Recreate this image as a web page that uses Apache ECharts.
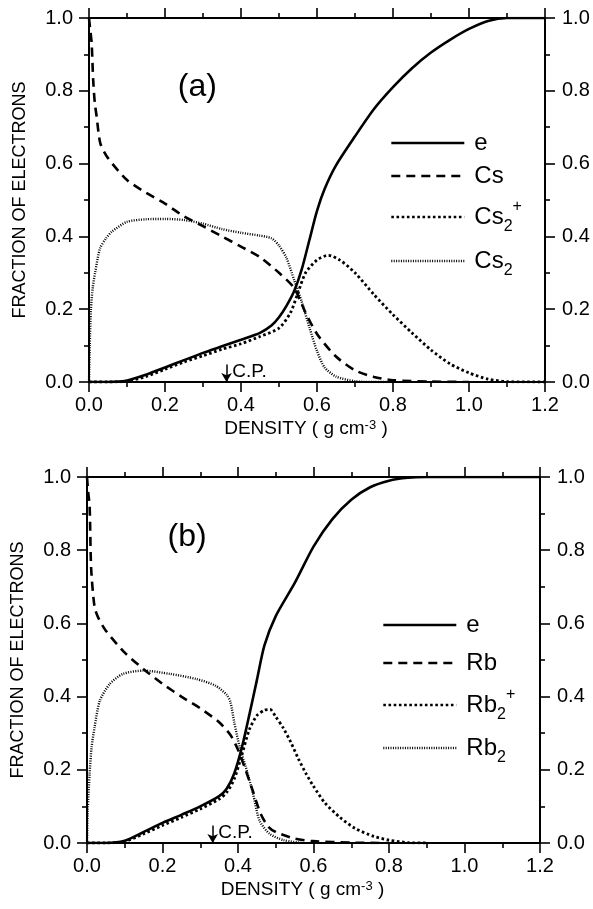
<!DOCTYPE html>
<html>
<head>
<meta charset="utf-8">
<script src="https://cdn.jsdelivr.net/npm/echarts@6/dist/echarts.min.js"></script>
<style>
  html, body { margin: 0; padding: 0; background: #fff; }
  #chart { width: 593px; height: 909px; }
</style>
</head>
<body>
<div id="chart"></div>
<script>
// panel (a): Cs, density in g cm^-3 vs fraction of electrons
const eA = [[0,0],[0.05,0],[0.1,0.004],[0.15,0.02],[0.2,0.04],[0.25,0.06],[0.3,0.08],[0.35,0.098],[0.4,0.116],[0.45,0.135],[0.48,0.155],[0.5,0.178],[0.52,0.21],[0.54,0.25],[0.56,0.31],[0.58,0.39],[0.6,0.47],[0.62,0.53],[0.65,0.595],[0.7,0.675],[0.75,0.75],[0.8,0.81],[0.85,0.862],[0.9,0.905],[0.95,0.94],[1.0,0.97],[1.05,0.992],[1.1,1.0],[1.2,1.0]]
const csA = [[0,1.0],[0.003,0.97],[0.007,0.93],[0.011,0.83],[0.015,0.77],[0.02,0.73],[0.03,0.655],[0.05,0.615],[0.1,0.555],[0.15,0.52],[0.2,0.49],[0.25,0.455],[0.3,0.428],[0.35,0.4],[0.4,0.372],[0.45,0.343],[0.5,0.3],[0.54,0.258],[0.57,0.19],[0.6,0.132],[0.65,0.07],[0.7,0.032],[0.75,0.014],[0.8,0.005],[0.9,0.001],[1.0,0]]
const cs2pA = [[0,0],[0.05,0],[0.1,0.002],[0.15,0.015],[0.2,0.035],[0.25,0.055],[0.3,0.072],[0.35,0.09],[0.4,0.105],[0.45,0.125],[0.5,0.148],[0.53,0.19],[0.55,0.245],[0.57,0.3],[0.6,0.335],[0.63,0.348],[0.66,0.335],[0.7,0.3],[0.75,0.24],[0.8,0.185],[0.85,0.135],[0.9,0.088],[0.95,0.05],[1.0,0.025],[1.05,0.008],[1.1,0.001],[1.2,0]]
const cs2A = [[0,0],[0.002,0.1],[0.005,0.2],[0.01,0.26],[0.016,0.3],[0.029,0.367],[0.045,0.395],[0.06,0.413],[0.1,0.44],[0.15,0.447],[0.2,0.448],[0.25,0.445],[0.3,0.435],[0.35,0.42],[0.4,0.41],[0.45,0.402],[0.48,0.395],[0.5,0.375],[0.52,0.34],[0.54,0.28],[0.56,0.22],[0.58,0.15],[0.6,0.085],[0.62,0.04],[0.65,0.015],[0.7,0.002],[0.75,0],[0.8,0]]
const cpA = 0.362

// panel (b): Rb
const eB = [[0,0],[0.05,0],[0.1,0.006],[0.15,0.03],[0.2,0.055],[0.25,0.077],[0.3,0.1],[0.35,0.128],[0.37,0.148],[0.39,0.19],[0.41,0.26],[0.43,0.35],[0.45,0.445],[0.47,0.54],[0.5,0.62],[0.55,0.71],[0.6,0.81],[0.65,0.885],[0.7,0.938],[0.75,0.972],[0.8,0.99],[0.85,0.998],[0.9,1.0],[1.2,1.0]]
const rbB = [[0,1.0],[0.003,0.96],[0.007,0.92],[0.011,0.75],[0.02,0.645],[0.03,0.615],[0.05,0.58],[0.1,0.52],[0.15,0.475],[0.2,0.435],[0.25,0.4],[0.3,0.368],[0.35,0.33],[0.38,0.295],[0.4,0.255],[0.42,0.2],[0.44,0.14],[0.46,0.08],[0.48,0.045],[0.5,0.03],[0.55,0.012],[0.6,0.005],[0.7,0.001],[0.8,0]]
const rb2pB = [[0,0],[0.05,0],[0.1,0.004],[0.15,0.025],[0.2,0.048],[0.25,0.07],[0.3,0.093],[0.35,0.12],[0.37,0.138],[0.39,0.175],[0.41,0.24],[0.43,0.31],[0.45,0.348],[0.47,0.363],[0.485,0.365],[0.5,0.345],[0.52,0.314],[0.54,0.275],[0.56,0.23],[0.58,0.19],[0.6,0.155],[0.63,0.11],[0.67,0.07],[0.71,0.04],[0.76,0.018],[0.8,0.008],[0.85,0.001],[0.9,0]]
const rb2B = [[0,0],[0.002,0.09],[0.007,0.19],[0.012,0.26],[0.02,0.316],[0.034,0.389],[0.06,0.434],[0.095,0.462],[0.15,0.471],[0.22,0.462],[0.29,0.448],[0.34,0.43],[0.37,0.405],[0.38,0.385],[0.39,0.33],[0.405,0.26],[0.42,0.21],[0.44,0.134],[0.457,0.061],[0.484,0.025],[0.52,0.008],[0.57,0]]
const cpB = 0.333

const densityTicks = { min: 0, max: 1.2, interval: 0.2 }
const fractionTicks = { min: 0, max: 1, interval: 0.2 }

const FONT = '"Liberation Sans", Arial, Helvetica, sans-serif'
const INK = '#000'

const legendText = {
  'e (a)': 'e', 'Cs': 'Cs', 'Cs2+': 'Cs{sub|2}{sup|+}', 'Cs2': 'Cs{sub|2}',
  'e (b)': 'e', 'Rb': 'Rb', 'Rb2+': 'Rb{sub|2}{sup|+}', 'Rb2': 'Rb{sub|2}'
}

const styles = {
  solid: { type: 'solid', width: 2.6 },
  dashed: { type: [9, 6], width: 2.6 },
  dotted: { type: [2.6, 2.6], width: 2.8 },
  fine: { type: [1, 1.4], width: 2.4 }
}

const chart = echarts.init(document.getElementById('chart'))

function xAxisFor(grid, pos) {
  const bottom = pos === 'bottom'
  return {
    type: 'value', gridIndex: grid, position: pos, ...densityTicks,
    axisLine: { onZero: false, lineStyle: { color: INK, width: 2 } },
    axisTick: { length: 10, lineStyle: { color: INK, width: 1.6 } },
    minorTick: { show: true, splitNumber: 2, length: 5, lineStyle: { color: INK, width: 1.6 } },
    splitLine: { show: false },
    axisLabel: {
      show: bottom, color: INK, fontSize: 20, fontFamily: FONT, margin: 13,
      formatter: v => v.toFixed(1)
    },
    name: bottom ? 'DENSITY ( g cm{sup|-3} )' : '',
    nameLocation: 'middle', nameGap: 37,
    nameTextStyle: {
      color: INK, fontSize: 19, fontFamily: FONT, padding: [0, 22, 0, 0],
      rich: { sup: { fontSize: 13, fontFamily: FONT, lineHeight: 13, verticalAlign: 'top' } }
    }
  }
}

function yAxisFor(grid, pos) {
  const left = pos === 'left'
  return {
    type: 'value', gridIndex: grid, position: pos, ...fractionTicks,
    axisLine: { onZero: false, lineStyle: { color: INK, width: 2 } },
    axisTick: { length: 10, lineStyle: { color: INK, width: 1.6 } },
    minorTick: { show: true, splitNumber: 2, length: 5, lineStyle: { color: INK, width: 1.6 } },
    splitLine: { show: false },
    axisLabel: { color: INK, fontSize: 20, fontFamily: FONT, margin: left ? 16 : 17, formatter: v => v.toFixed(1) },
    name: left ? 'FRACTION OF ELECTRONS' : '',
    nameLocation: 'middle', nameGap: 60,
    nameTextStyle: { color: INK, fontSize: 18, fontFamily: FONT }
  }
}

function line(name, data, style, panel) {
  return {
    name, type: 'line', data, xAxisIndex: panel * 2, yAxisIndex: panel * 2,
    showSymbol: false, symbol: 'none', smooth: 0.25,
    lineStyle: { color: INK, ...styles[style] },
    itemStyle: { color: INK },
    z: 3
  }
}

function cpArrow(cp, panel) {
  return {
    type: 'line', data: [], xAxisIndex: panel * 2, yAxisIndex: panel * 2, silent: true,
    markLine: {
      silent: true, symbol: ['none', 'arrow'], symbolSize: [8, 9],
      lineStyle: { color: INK, type: 'solid', width: 1.5 },
      label: { show: false },
      data: [[{ coord: [cp, 0.048] }, { coord: [cp, 0] }]]
    }
  }
}

function legendRows(rows, left) {
  return rows.map(([name, cy]) => ({
    data: [name], left, top: cy - 18, padding: 0, selectedMode: false,
    itemWidth: 73, itemHeight: 14, itemGap: 0,
    lineStyle: { width: 2.6 },
    itemStyle: { color: 'rgba(0,0,0,0)', borderWidth: 0, opacity: 0 },
    formatter: n => legendText[n],
    textStyle: {
      color: INK, fontSize: 24, fontFamily: FONT, lineHeight: 36, padding: [0, 0, 0, 5],
      rich: {
        sub: { fontSize: 16, fontFamily: FONT, lineHeight: 16, verticalAlign: 'bottom', color: INK },
        sup: { fontSize: 16, fontFamily: FONT, lineHeight: 24, verticalAlign: 'top', color: INK }
      }
    }
  }))
}

chart.setOption({
  animation: false,
  backgroundColor: '#fff',
  grid: [
    { left: 89, top: 18, width: 456, height: 364, containLabel: false },
    { left: 87, top: 477, width: 453, height: 366, containLabel: false }
  ],
  xAxis: [xAxisFor(0, 'bottom'), xAxisFor(0, 'top'), xAxisFor(1, 'bottom'), xAxisFor(1, 'top')],
  yAxis: [yAxisFor(0, 'left'), yAxisFor(0, 'right'), yAxisFor(1, 'left'), yAxisFor(1, 'right')],
  legend: [
    ...legendRows([['e (a)', 143], ['Cs', 176], ['Cs2+', 217], ['Cs2', 261]], 390),
    ...legendRows([['e (b)', 625], ['Rb', 663], ['Rb2+', 705], ['Rb2', 748]], 382)
  ],
  series: [
    line('e (a)', eA, 'solid', 0),
    line('Cs', csA, 'dashed', 0),
    line('Cs2+', cs2pA, 'dotted', 0),
    line('Cs2', cs2A, 'fine', 0),
    cpArrow(cpA, 0),
    line('e (b)', eB, 'solid', 1),
    line('Rb', rbB, 'dashed', 1),
    line('Rb2+', rb2pB, 'dotted', 1),
    line('Rb2', rb2B, 'fine', 1),
    cpArrow(cpB, 1)
  ]
})

// panel letters and C.P. labels, placed from data coordinates
function textAt(grid, value, text, size, align, vAlign) {
  const [x, y] = chart.convertToPixel({ gridIndex: grid }, value)
  return { type: 'text', x, y, silent: true, style: { text, fontSize: size, fontFamily: FONT, fill: INK, align, verticalAlign: vAlign } }
}
chart.setOption({
  graphic: [
    textAt(0, [0.285, 0.81], '(a)', 32, 'center', 'middle'),
    textAt(1, [0.265, 0.835], '(b)', 32, 'center', 'middle'),
    textAt(0, [cpA + 0.015, 0.027], 'C.P.', 19, 'left', 'middle'),
    textAt(1, [cpB + 0.015, 0.027], 'C.P.', 19, 'left', 'middle')
  ]
})
</script>
</body>
</html>
